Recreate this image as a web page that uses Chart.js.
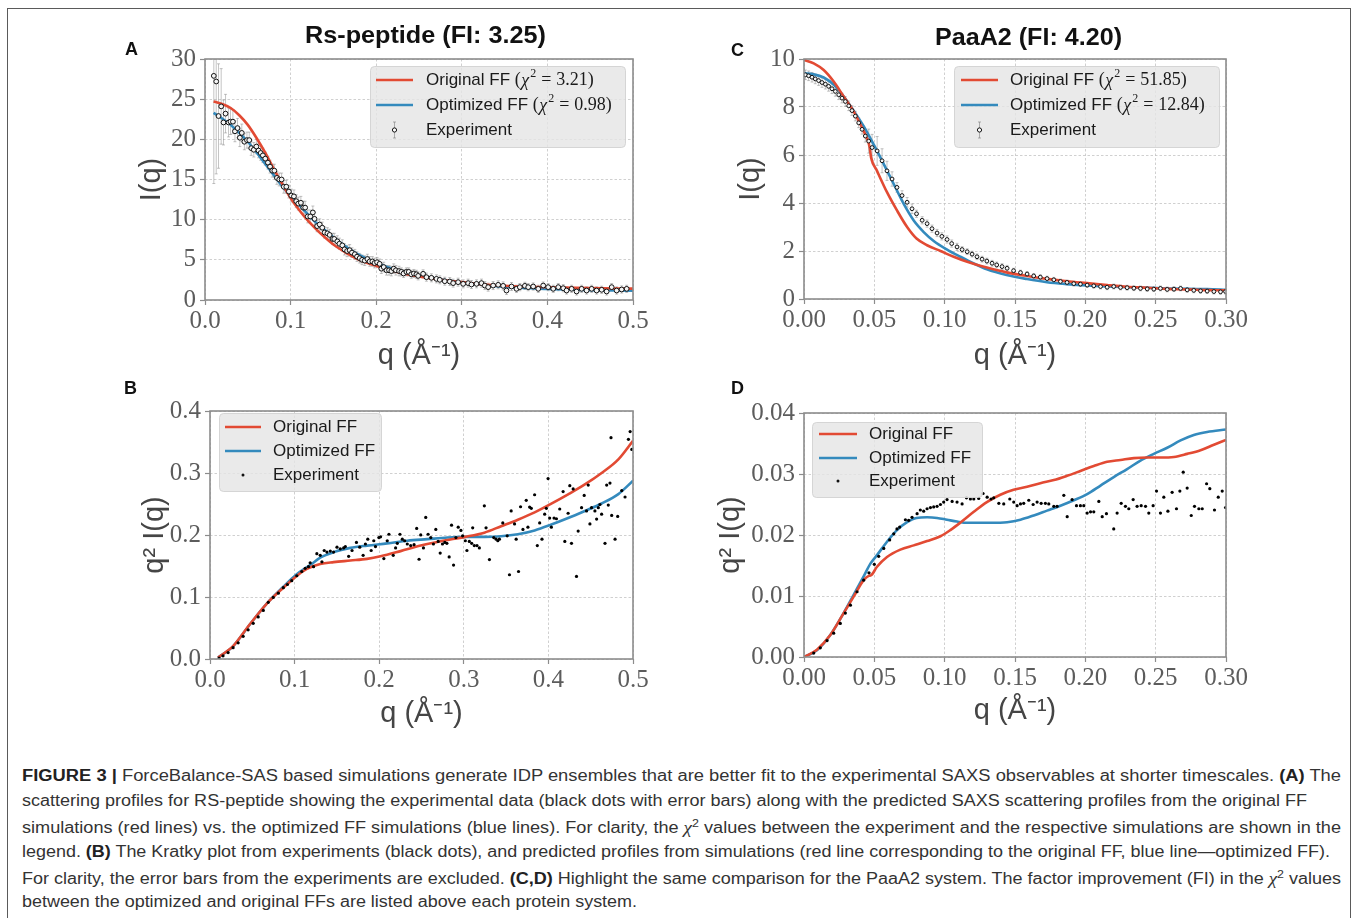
<!DOCTYPE html>
<html><head><meta charset="utf-8">
<script src="https://cdn.jsdelivr.net/npm/chart.js@4.4.1/dist/chart.umd.min.js"></script>
<style>
html,body{margin:0;padding:0;background:#fff;}
body{width:1358px;height:918px;position:relative;overflow:hidden;font-family:"Liberation Sans",Arial,sans-serif;}
#frame{position:absolute;left:7px;top:8px;width:1344px;height:960px;border:1.5px solid #5a5a5a;box-sizing:border-box;}
canvas{position:absolute;}
.fit{position:absolute;white-space:nowrap;transform-origin:0 50%;}
.ttl{font-weight:bold;font-size:24px;color:#111;line-height:30px;}
.lbl{position:absolute;font-weight:bold;font-size:18px;color:#111;line-height:20px;}
.cap{font-size:16px;color:#333;line-height:20px;}
.cap b{color:#222;}
.cap i{font-family:"Liberation Serif",serif;font-size:17px;}
.cap sup{font-size:11px;}
</style></head>
<body>
<div id="frame"></div>
<canvas id="cA"></canvas><canvas id="cB"></canvas><canvas id="cC"></canvas><canvas id="cD"></canvas>
<div class="fit ttl" data-w="241" data-cx="425" data-cy="35">Rs-peptide (FI: 3.25)</div>
<div class="fit ttl" data-w="187" data-cx="1028" data-cy="37">PaaA2 (FI: 4.20)</div>
<div class="lbl" style="left:125px;top:39px">A</div>
<div class="lbl" style="left:124px;top:378px">B</div>
<div class="lbl" style="left:731px;top:40px">C</div>
<div class="lbl" style="left:731px;top:378px">D</div>
<div class="fit cap" data-w="1319" data-x="22" data-cy="776"><b>FIGURE 3 |</b> ForceBalance-SAS based simulations generate IDP ensembles that are better fit to the experimental SAXS observables at shorter timescales. <b>(A)</b> The</div>
<div class="fit cap" data-w="1285" data-x="22" data-cy="801">scattering profiles for RS-peptide showing the experimental data (black dots with error bars) along with the predicted SAXS scattering profiles from the original FF</div>
<div class="fit cap" data-w="1319" data-x="22" data-cy="826">simulations (red lines) vs. the optimized FF simulations (blue lines). For clarity, the <i>χ</i><sup>2</sup> values between the experiment and the respective simulations are shown in the</div>
<div class="fit cap" data-w="1308" data-x="22" data-cy="852">legend. <b>(B)</b> The Kratky plot from experiments (black dots), and predicted profiles from simulations (red line corresponding to the original FF, blue line—optimized FF).</div>
<div class="fit cap" data-w="1319" data-x="22" data-cy="877">For clarity, the error bars from the experiments are excluded. <b>(C,D)</b> Highlight the same comparison for the PaaA2 system. The factor improvement (FI) in the <i>χ</i><sup>2</sup> values</div>
<div class="fit cap" data-w="615" data-x="22" data-cy="902">between the optimized and original FFs are listed above each protein system.</div>
<script>
// ================= DATA =================
// Panel A : I(q) Rs-peptide
const ticksA_x = [0, 0.1, 0.2, 0.3, 0.4, 0.5];
const ticksA_y = [0, 5, 10, 15, 20, 25, 30];
const qA_fit  = [0.01,0.02,0.03,0.04,0.05,0.06,0.07,0.08,0.09,0.10,0.11,0.12,0.13,0.14,0.15,0.16,0.17,0.18,0.19,0.20,0.22,0.24,0.26,0.28,0.30,0.33,0.36,0.40,0.45,0.50];
const A_orig  = [24.7,24.4,23.9,23.0,21.8,20.2,18.4,16.4,14.5,12.7,11.2,9.9,8.8,7.8,6.9,6.2,5.55,5.0,4.6,4.25,3.6,3.1,2.75,2.45,2.22,1.9,1.71,1.59,1.48,1.42];
const A_opt   = [23.3,22.6,21.8,20.8,19.7,18.4,17.0,15.6,14.2,12.9,11.8,10.7,9.6,8.7,7.8,7.0,6.25,5.6,5.1,4.62,3.85,3.3,2.85,2.5,2.2,1.84,1.55,1.38,1.23,1.16];
const qA_exp  = [0.0103,0.0131,0.0158,0.0189,0.0216,0.0240,0.0275,0.0298,0.0326,0.0350,0.0380,0.0407,0.0430,0.0460,0.0490,0.0517,0.0540,0.0570,0.0600,0.0626,0.0650,0.0676,0.0704,0.0735,0.0760,0.0786,0.0810,0.0840,0.0867,0.0895,0.0920,0.0950,0.0980,0.1008,0.1039,0.1066,0.1090,0.1120,0.1148,0.1170,0.1200,0.1230,0.1260,0.1280,0.1310,0.1340,0.1370,0.1398,0.1430,0.1456,0.1490,0.1510,0.1546,0.1570,0.1604,0.1630,0.1660,0.1690,0.1717,0.1750,0.1776,0.1807,0.1835,0.1866,0.1897,0.1924,0.1955,0.1980,0.2010,0.2040,0.2060,0.2088,0.2120,0.2150,0.2177,0.2205,0.2230,0.2267,0.2294,0.2320,0.2353,0.2380,0.2410,0.2440,0.2470,0.2490,0.2548,0.2587,0.2645,0.2704,0.2743,0.2801,0.2860,0.2899,0.2957,0.3016,0.3074,0.3113,0.3172,0.3230,0.3269,0.3308,0.3366,0.3425,0.3483,0.3522,0.3581,0.3639,0.3678,0.3737,0.3776,0.3834,0.3893,0.3951,0.4009,0.4068,0.4127,0.4185,0.4224,0.4283,0.4341,0.4400,0.4458,0.4517,0.4575,0.4634,0.4692,0.4751,0.4809,0.4868,0.4926];
const A_exp   = [27.9,27.2,22.9,24.1,22.1,23.2,22.1,22.2,22.2,21.0,21.4,20.2,20.8,19.7,19.9,19.9,18.9,18.7,19.1,18.6,18.3,18.0,17.6,17.1,16.6,16.1,16.1,15.2,15.0,15.0,14.1,14.1,13.5,13.0,12.9,12.3,12.0,12.1,11.5,11.5,10.4,10.4,10.9,10.1,9.2,9.4,9.0,8.4,8.3,8.1,7.6,7.6,7.3,7.0,6.8,6.3,6.1,6.2,5.9,5.7,5.4,5.2,5.0,4.9,5.1,4.8,4.8,4.6,4.7,4.5,3.9,4.1,3.7,3.7,3.6,3.9,3.7,3.6,3.5,3.3,3.5,3.5,3.2,3.3,3.2,3.0,3.26,2.84,2.76,2.63,2.51,2.34,2.30,2.10,2.22,2.01,2.10,1.93,2.01,2.10,1.80,1.60,1.80,1.89,1.76,1.18,1.68,1.39,1.60,1.76,1.60,1.68,1.39,1.80,1.60,1.39,1.60,1.47,1.18,1.39,1.06,1.39,1.18,1.39,1.18,1.27,1.06,1.60,1.18,1.31,1.39];
const A_err   = [13.4,11.5,6.5,4.7,2.8,2.4,1.8,1.6,1.5,1.3,1.2,1.1,1.1,1.0,1.0,1.0,0.9,0.9,0.9,0.9,0.9,0.9,0.8,0.8,0.8,0.8,0.8,0.8,0.8,0.8,0.8,0.8,0.8,0.8,0.8,0.8,0.8,0.8,0.8,0.8,0.8,0.8,0.8,0.8,0.7,0.7,0.7,0.7,0.7,0.7,0.7,0.7,0.7,0.7,0.7,0.7,0.7,0.7,0.6,0.6,0.6,0.6,0.6,0.6,0.6,0.6,0.6,0.6,0.6,0.6,0.6,0.6,0.6,0.6,0.6,0.6,0.6,0.6,0.5,0.5,0.5,0.5,0.5,0.5,0.5,0.5,0.5,0.5,0.5,0.5,0.5,0.5,0.5,0.5,0.5,0.5,0.5,0.5,0.5,0.5,0.5,0.5,0.5,0.5,0.5,0.5,0.5,0.45,0.45,0.45,0.45,0.45,0.45,0.45,0.45,0.45,0.45,0.45,0.45,0.45,0.45,0.45,0.45,0.45,0.45,0.45,0.45,0.45,0.45,0.45,0.45,0.45,0.45];

// Panel B : Kratky Rs-peptide
const ticksB_x = [0, 0.1, 0.2, 0.3, 0.4, 0.5];
const ticksB_y = [0, 0.1, 0.2, 0.3, 0.4];
const qB_orig = [0.0095,0.0273,0.0471,0.0669,0.0867,0.1018,0.1145,0.1303,0.1461,0.1659,0.1857,0.2016,0.2253,0.2491,0.2728,0.3018,0.3243,0.3441,0.3639,0.3837,0.4035,0.4233,0.4431,0.4629,0.4827,0.5];
const B_orig  = [0.0024,0.0208,0.0560,0.0890,0.1150,0.1332,0.1453,0.1531,0.1562,0.1588,0.1615,0.1656,0.1740,0.1830,0.1900,0.1970,0.2038,0.2142,0.2247,0.2365,0.2505,0.2655,0.2815,0.3000,0.3220,0.3520];
const qB_opt  = [0.0095,0.0273,0.0471,0.0669,0.0867,0.1018,0.1184,0.1303,0.1461,0.1659,0.1857,0.2095,0.2332,0.2570,0.2808,0.3018,0.3243,0.3441,0.3639,0.3837,0.4035,0.4233,0.4431,0.4629,0.4827,0.5];
const B_opt   = [0.0024,0.0205,0.0556,0.0890,0.1165,0.1359,0.1515,0.1635,0.1724,0.1792,0.1829,0.1865,0.1907,0.1933,0.1959,0.1970,0.1970,0.1980,0.2012,0.2074,0.2168,0.2273,0.2388,0.2508,0.2660,0.2874];
const qB_exp  = [0.0107,0.0154,0.0214,0.0273,0.0333,0.0392,0.0451,0.0511,0.0570,0.0630,0.0689,0.0748,0.0808,0.0867,0.0915,0.0966,0.1026,0.1085,0.1125,0.1164,0.1184,0.1224,0.1263,0.1303,0.1323,0.1350,0.1382,0.1422,0.1461,0.1501,0.1540,0.1580,0.1600,0.1639,0.1679,0.1731,0.1770,0.1810,0.1837,0.1865,0.1905,0.1936,0.1956,0.1996,0.2016,0.2055,0.2095,0.2115,0.2166,0.2194,0.2214,0.2245,0.2273,0.2301,0.2332,0.2372,0.2412,0.2443,0.2471,0.2491,0.2523,0.2550,0.2578,0.2610,0.2641,0.2669,0.2697,0.2721,0.2748,0.2776,0.2800,0.2827,0.2855,0.2879,0.2907,0.2934,0.2966,0.2986,0.3018,0.3037,0.3065,0.3093,0.3105,0.3124,0.3156,0.3184,0.3243,0.3263,0.3303,0.3354,0.3382,0.3402,0.3421,0.3461,0.3513,0.3540,0.3560,0.3600,0.3619,0.3647,0.3671,0.3699,0.3738,0.3758,0.3778,0.3798,0.3837,0.3869,0.3897,0.3924,0.3956,0.3976,0.3996,0.4015,0.4035,0.4067,0.4095,0.4134,0.4174,0.4194,0.4233,0.4253,0.4273,0.4293,0.4332,0.4352,0.4392,0.4423,0.4451,0.4471,0.4491,0.4510,0.4550,0.4570,0.4590,0.4609,0.4629,0.4669,0.4689,0.4708,0.4728,0.4748,0.4788,0.4819,0.4867,0.4906,0.4740,0.4946,0.4966,0.4986];
const B_exp   = [0.0016,0.0052,0.0104,0.0183,0.0261,0.0366,0.0470,0.0575,0.0679,0.0784,0.0914,0.0993,0.1061,0.1150,0.1202,0.1264,0.1343,0.1411,0.1463,0.1489,0.1552,0.1489,0.1698,0.1672,0.1568,0.1750,0.1724,0.1740,0.1724,0.1803,0.1777,0.1792,0.1813,0.1656,0.1750,0.1881,0.1803,0.1672,0.1855,0.1933,0.1750,0.1907,0.1813,0.1959,0.1970,0.1620,0.1907,0.2012,0.1672,0.1792,0.1865,0.2012,0.1933,0.1907,0.1855,0.1829,0.1844,0.2106,0.1609,0.2001,0.1792,0.2283,0.2012,0.1959,0.1855,0.2090,0.1897,0.1709,0.1855,0.1881,0.1865,0.1646,0.2158,0.1515,0.1959,0.2127,0.2074,0.1986,0.1907,0.1750,0.1897,0.1865,0.2116,0.1829,0.1829,0.1792,0.2471,0.2116,0.1604,0.1959,0.1933,0.1907,0.1933,0.2195,0.1986,0.1359,0.2388,0.2179,0.1933,0.1411,0.2456,0.2090,0.2560,0.2127,0.2451,0.2430,0.2649,0.1829,0.2195,0.1933,0.2336,0.2430,0.2910,0.2273,0.2127,0.2273,0.2262,0.2419,0.2701,0.1897,0.2351,0.2795,0.1865,0.2743,0.1332,0.2064,0.2440,0.2639,0.2388,0.2806,0.2179,0.2440,0.2388,0.2257,0.2440,0.2492,0.2336,0.1865,0.2806,0.2482,0.2837,0.2315,0.1933,0.2299,0.2717,0.2613,0.3569,0.3543,0.3668,0.3381];

// Panel C : I(q) PaaA2
const ticksC_x = [0, 0.05, 0.10, 0.15, 0.20, 0.25, 0.30];
const ticksC_y = [0, 2, 4, 6, 8, 10];
const qC_orig = [0,0.0069,0.014,0.0211,0.0282,0.0353,0.0413,0.0448,0.0467,0.0477,0.0519,0.059,0.0661,0.0733,0.080,0.0875,0.097,0.1064,0.116,0.130,0.144,0.1586,0.1728,0.187,0.2013,0.2155,0.2297,0.244,0.258,0.2724,0.2866,0.30];
const C_orig  = [9.96,9.82,9.54,9.06,8.44,7.82,7.13,6.69,6.31,5.89,5.34,4.45,3.69,3.00,2.52,2.24,2.00,1.76,1.55,1.31,1.11,0.96,0.84,0.74,0.66,0.58,0.51,0.47,0.42,0.40,0.37,0.36];
const qC_opt  = [0,0.0069,0.014,0.0211,0.0282,0.0353,0.0424,0.0495,0.0567,0.0638,0.0709,0.078,0.0851,0.0922,0.1017,0.1112,0.1207,0.130,0.144,0.1586,0.1728,0.187,0.2013,0.2155,0.2297,0.244,0.258,0.2724,0.2866,0.30];
const C_opt   = [9.40,9.36,9.23,8.93,8.44,7.85,7.20,6.44,5.62,4.79,3.96,3.27,2.79,2.42,2.06,1.76,1.48,1.24,1.00,0.83,0.70,0.62,0.56,0.52,0.49,0.47,0.44,0.42,0.41,0.38];
const qC_exp  = [0.001,0.0033,0.0057,0.008,0.0104,0.0128,0.0152,0.0175,0.0199,0.0223,0.0247,0.027,0.0294,0.0318,0.0341,0.0365,0.0389,0.0413,0.0436,0.046,0.0484,0.052,0.0555,0.059,0.0626,0.0661,0.0697,0.0733,0.0768,0.080,0.084,0.0875,0.091,0.0946,0.098,0.1017,0.105,0.1088,0.1124,0.116,0.1195,0.123,0.1266,0.130,0.1337,0.137,0.1408,0.1444,0.149,0.1539,0.1586,0.1633,0.168,0.1728,0.1776,0.1823,0.187,0.1918,0.1965,0.2013,0.206,0.2108,0.2155,0.2202,0.225,0.2297,0.2345,0.2392,0.244,0.2487,0.2534,0.2582,0.263,0.2677,0.2724,0.2771,0.2819,0.2866,0.2914,0.2961,0.2997];
const C_exp   = [9.34,9.30,9.24,9.17,9.10,9.02,8.95,8.86,8.76,8.65,8.51,8.37,8.23,8.05,7.85,7.62,7.34,7.07,6.79,6.58,6.31,6.17,5.76,5.34,5.00,4.65,4.31,4.03,3.76,3.55,3.28,3.14,2.93,2.75,2.61,2.48,2.31,2.17,2.06,1.97,1.87,1.76,1.66,1.58,1.49,1.42,1.35,1.28,1.18,1.10,1.04,0.96,0.91,0.85,0.80,0.73,0.69,0.64,0.62,0.58,0.55,0.52,0.49,0.52,0.48,0.47,0.45,0.44,0.42,0.41,0.44,0.40,0.41,0.44,0.38,0.36,0.34,0.33,0.31,0.30,0.31];
const C_err   = [0.2,0.2,0.2,0.2,0.2,0.2,0.2,0.2,0.2,0.2,0.2,0.2,0.2,0.2,0.2,0.2,0.2,0.2,0.25,0.5,0.55,0.6,0.5,0.4,0.3,0.2,0.2,0.2,0.2,0.15,0.15,0.15,0.15,0.15,0.15,0.15,0.15,0.15,0.12,0.12,0.12,0.12,0.12,0.12,0.12,0.12,0.12,0.12,0.1,0.1,0.1,0.1,0.1,0.1,0.1,0.1,0.1,0.1,0.1,0.1,0.1,0.1,0.1,0.1,0.1,0.1,0.1,0.1,0.1,0.1,0.1,0.1,0.1,0.1,0.1,0.1,0.1,0.1,0.1,0.1,0.1];

// Panel D : Kratky PaaA2
const ticksD_x = [0, 0.05, 0.10, 0.15, 0.20, 0.25, 0.30];
const ticksD_y = [0, 0.01, 0.02, 0.03, 0.04];
const qD_orig = [0,0.0092,0.0187,0.0282,0.0353,0.0424,0.046,0.0477,0.0519,0.059,0.0685,0.078,0.0875,0.097,0.104,0.111,0.1207,0.130,0.1396,0.149,0.1586,0.168,0.1776,0.187,0.1965,0.206,0.2155,0.225,0.2345,0.244,0.2534,0.263,0.2724,0.2819,0.2914,0.30];
const D_orig  = [0,0.0012,0.0036,0.0072,0.0099,0.0126,0.0133,0.0134,0.0148,0.0164,0.0176,0.0183,0.0190,0.0198,0.0208,0.0220,0.0238,0.0254,0.0266,0.0274,0.0279,0.0285,0.0290,0.0297,0.0305,0.0313,0.0320,0.0323,0.0326,0.0327,0.0327,0.0328,0.0333,0.0339,0.0348,0.0356];
const qD_opt  = [0,0.0092,0.0187,0.0282,0.0353,0.0424,0.0472,0.0519,0.059,0.0661,0.0733,0.080,0.0875,0.0946,0.1017,0.1088,0.116,0.123,0.1325,0.1444,0.1539,0.1633,0.1728,0.1823,0.1918,0.2013,0.2108,0.2202,0.2297,0.2392,0.2487,0.2582,0.2677,0.2771,0.2866,0.30];
const D_opt   = [0,0.0011,0.0036,0.0072,0.0102,0.0132,0.0153,0.0167,0.0189,0.0208,0.0221,0.0228,0.0229,0.0228,0.0225,0.0222,0.0220,0.0220,0.0220,0.0221,0.0225,0.0232,0.0240,0.0248,0.0257,0.0267,0.0281,0.0295,0.0308,0.0322,0.0333,0.0343,0.0355,0.0364,0.0369,0.0373];
const qD_exp  = [0.0069,0.0116,0.0164,0.0211,0.0258,0.0294,0.033,0.0377,0.0424,0.0462,0.0500,0.0531,0.0567,0.0609,0.0638,0.0661,0.0680,0.0721,0.0744,0.0768,0.0804,0.0827,0.0851,0.0875,0.0899,0.0922,0.0946,0.0970,0.0993,0.1017,0.1053,0.1088,0.1124,0.1155,0.1183,0.1207,0.1242,0.1273,0.1302,0.1330,0.1349,0.1385,0.1420,0.1463,0.1491,0.1515,0.1539,0.1562,0.1598,0.1629,0.1657,0.1686,0.1716,0.1740,0.1776,0.1799,0.1847,0.1871,0.1906,0.1937,0.1965,0.1989,0.2013,0.2037,0.2060,0.2096,0.2120,0.2150,0.2202,0.2226,0.2255,0.2285,0.2309,0.2340,0.2368,0.2397,0.2428,0.2451,0.2482,0.2506,0.2534,0.2558,0.2587,0.2617,0.2648,0.2672,0.2696,0.2724,0.2753,0.2776,0.2807,0.2831,0.2862,0.2885,0.2918,0.2945,0.2973,0.2997];
const D_exp   = [0.00065,0.0015,0.0027,0.0039,0.0055,0.0072,0.0085,0.0107,0.0126,0.0138,0.0152,0.0165,0.0178,0.0192,0.0202,0.0210,0.0213,0.0225,0.0224,0.0229,0.0235,0.0241,0.0239,0.0243,0.0245,0.0246,0.0247,0.0250,0.0254,0.0258,0.0255,0.0254,0.0251,0.0261,0.0259,0.0259,0.0260,0.0268,0.0262,0.0259,0.0261,0.0252,0.0251,0.0259,0.0254,0.0248,0.0251,0.0252,0.0257,0.0250,0.0254,0.0252,0.0252,0.0251,0.0247,0.0247,0.0265,0.0230,0.0258,0.0248,0.0248,0.0248,0.0236,0.0238,0.0238,0.0255,0.0230,0.0235,0.0210,0.0236,0.0252,0.0247,0.0243,0.0258,0.0247,0.0248,0.0247,0.0236,0.0248,0.0272,0.0236,0.0262,0.0239,0.0270,0.0243,0.0272,0.0303,0.0277,0.0232,0.0247,0.0243,0.0243,0.0284,0.0276,0.0241,0.0262,0.0272,0.0245];

// Legend texts
const legendNames = ['Original FF', 'Optimized FF', 'Experiment'];
const chiA = ['3.21', '0.98'];
const chiC = ['51.85', '12.84'];

// ================= STYLE / LAYOUT =================
const RED = '#E24A33', BLUE = '#348ABD';
const xy = (xs, ys) => xs.map((x, i) => ({x: x, y: ys[i]}));

function errPlugin(q, v, e) {
  return { id: 'errbars', beforeDatasetsDraw(chart) {
    const ctx = chart.ctx, a = chart.chartArea, xs = chart.scales.x, ys = chart.scales.y;
    ctx.save();
    ctx.beginPath(); ctx.rect(a.left, a.top, a.right - a.left, a.bottom - a.top); ctx.clip();
    ctx.strokeStyle = 'rgba(120,120,120,0.55)'; ctx.lineWidth = 0.8;
    ctx.beginPath();
    q.forEach((qq, i) => {
      const x = xs.getPixelForValue(qq);
      const y1 = ys.getPixelForValue(v[i] - e[i]), y2 = ys.getPixelForValue(v[i] + e[i]);
      ctx.moveTo(x, y1); ctx.lineTo(x, y2);
      ctx.moveTo(x - 1.5, y1); ctx.lineTo(x + 1.5, y1);
      ctx.moveTo(x - 1.5, y2); ctx.lineTo(x + 1.5, y2);
    });
    ctx.stroke(); ctx.restore();
  }};
}
const framePlugin = { id: 'frame', afterDatasetsDraw(chart) {
  const ctx = chart.ctx, a = chart.chartArea;
  ctx.save(); ctx.strokeStyle = '#8c8c8c'; ctx.lineWidth = 1.6;
  ctx.strokeRect(a.left, a.top, a.right - a.left, a.bottom - a.top); ctx.restore();
}};
function legendPlugin(spec, geo) {
  return { id: 'boxlegend', afterDraw(chart) {
    const ctx = chart.ctx, ox = geo.left, oy = geo.top, b = spec.box;
    ctx.save();
    ctx.fillStyle = 'rgba(229,229,229,0.82)'; ctx.strokeStyle = 'rgba(210,210,210,0.9)'; ctx.lineWidth = 1;
    ctx.beginPath(); ctx.roundRect(b[0] - ox + 0.5, b[1] - oy + 0.5, b[2], b[3], 4); ctx.fill(); ctx.stroke();
    spec.rows.forEach(r => {
      const y = r.y - oy;
      if (r.kind === 'line') {
        ctx.strokeStyle = r.color; ctx.lineWidth = 2.6; ctx.beginPath();
        ctx.moveTo(spec.x1 - ox, y); ctx.lineTo(spec.x2 - ox, y); ctx.stroke();
      } else {
        const mx = (spec.x1 + spec.x2) / 2 - ox;
        if (r.kind === 'errpt') {
          ctx.strokeStyle = 'rgba(120,120,120,0.7)'; ctx.lineWidth = 0.8; ctx.beginPath();
          ctx.moveTo(mx, y - 8); ctx.lineTo(mx, y + 8);
          ctx.moveTo(mx - 1.5, y - 8); ctx.lineTo(mx + 1.5, y - 8);
          ctx.moveTo(mx - 1.5, y + 8); ctx.lineTo(mx + 1.5, y + 8); ctx.stroke();
          ctx.fillStyle = '#fff'; ctx.strokeStyle = '#111'; ctx.lineWidth = 1;
          ctx.beginPath(); ctx.arc(mx, y, 2.1, 0, Math.PI * 2); ctx.fill(); ctx.stroke();
        } else {
          ctx.fillStyle = '#111'; ctx.beginPath(); ctx.arc(mx, y, 1.5, 0, Math.PI * 2); ctx.fill();
        }
      }
      ctx.fillStyle = '#1a1a1a'; ctx.textBaseline = 'middle'; ctx.textAlign = 'left';
      ctx.font = '17px "Liberation Sans", sans-serif';
      let x = spec.tx - ox;
      ctx.fillText(r.text, x, y);
      if (r.chi) {
        x += ctx.measureText(r.text + ' ').width;
        ctx.font = '18px "Liberation Serif", serif';
        ctx.fillText('(', x, y); x += ctx.measureText('(').width + 0.5;
        ctx.font = 'italic 18px "Liberation Serif", serif';
        ctx.fillText('χ', x, y + 1); x += ctx.measureText('χ').width + 1;
        ctx.font = '12px "Liberation Serif", serif';
        ctx.fillText('2', x, y - 6); x += ctx.measureText('2').width + 5;
        ctx.font = '18px "Liberation Serif", serif';
        ctx.fillText('=', x, y); x += ctx.measureText('=').width + 5;
        ctx.fillText(r.chi + ')', x, y);
      }
    });
    ctx.restore();
  }};
}

function panel(id, geo, xr, yr, xticks, yticks, xdec, ydec, yTitle, datasets, extraPlugins) {
  const cv = document.getElementById(id);
  cv.width = geo.w; cv.height = geo.h;
  cv.style.left = geo.left + 'px'; cv.style.top = geo.top + 'px';
  const yW = geo.pl - geo.left, xH = geo.top + geo.h - geo.pb;
  const TF = 29, LH = TF * 1.2;
  const gridOpts = { color: '#c4c4c4', lineWidth: 0.8, tickLength: 5, tickColor: '#8c8c8c', tickWidth: 1.2 };
  const tickFont = { family: '"Liberation Serif", serif', size: 25 };
  return new Chart(cv, {
    type: 'scatter',
    data: { datasets: datasets },
    options: {
      responsive: false, animation: false, devicePixelRatio: 1,
      layout: { autoPadding: false, padding: { left: 0, top: geo.pt - geo.top, right: geo.left + geo.w - geo.pr, bottom: 0 } },
      plugins: { legend: { display: false }, tooltip: { enabled: false } },
      scales: {
        x: {
          type: 'linear', min: xr[0], max: xr[1],
          afterBuildTicks: s => { s.ticks = xticks.map(v => ({ value: v })); },
          afterFit: s => { s.height = xH; },
          ticks: { callback: v => Number(v).toFixed(xdec), font: tickFont, color: '#5c5c5c', padding: 1, maxRotation: 0, autoSkip: false },
          grid: gridOpts, border: { display: false, dash: [2.5, 2] },
          title: { display: true, text: 'q (Å⁻¹)', font: { family: '"Liberation Sans", sans-serif', size: TF }, color: '#454545',
                   padding: { top: 0, bottom: geo.top + geo.h - LH / 2 - geo.xTitleY } }
        },
        y: {
          type: 'linear', min: yr[0], max: yr[1],
          afterBuildTicks: s => { s.ticks = yticks.map(v => ({ value: v })); },
          afterFit: s => { s.width = yW; },
          ticks: { callback: v => Number(v).toFixed(ydec), font: tickFont, color: '#5c5c5c', padding: 4 },
          grid: gridOpts, border: { display: false, dash: [2.5, 2] },
          title: { display: true, text: yTitle, font: { family: '"Liberation Sans", sans-serif', size: TF }, color: '#454545',
                   padding: { top: geo.yTitleX - geo.left - LH / 2, bottom: 0 } }
        }
      }
    },
    plugins: [framePlugin].concat(extraPlugins)
  });
}

const lineDS = (q, v, c) => ({ data: xy(q, v), showLine: true, borderColor: c, backgroundColor: c, borderWidth: 2.6, pointRadius: 0, cubicInterpolationMode: 'monotone', fill: false, order: 2 });
const openDS = (q, v, r) => ({ data: xy(q, v), showLine: false, pointRadius: r, pointBackgroundColor: '#f4f4f4', pointBorderColor: '#111', pointBorderWidth: 1, order: 0 });
const dotDS = (q, v) => ({ data: xy(q, v), showLine: false, pointRadius: 1.6, pointBackgroundColor: '#000', pointBorderWidth: 0, order: 0 });

const geoA = { left: 100, top: 40, w: 580, h: 345, pl: 205, pt: 57, pr: 633, pb: 300, yTitleX: 152, xTitleY: 356 };
const geoB = { left: 100, top: 392, w: 580, h: 345, pl: 210, pt: 404, pr: 633, pb: 659, yTitleX: 155, xTitleY: 714 };
const geoC = { left: 690, top: 40, w: 590, h: 345, pl: 804, pt: 57, pr: 1226, pb: 299, yTitleX: 751, xTitleY: 356 };
const geoD = { left: 690, top: 392, w: 590, h: 345, pl: 804, pt: 413, pr: 1226, pb: 657, yTitleX: 731, xTitleY: 711 };

const legA = { box: [370, 66, 255, 81], x1: 376, x2: 413, tx: 426, rows: [
  { kind: 'line', color: RED, y: 80, text: legendNames[0], chi: chiA[0] },
  { kind: 'line', color: BLUE, y: 105, text: legendNames[1], chi: chiA[1] },
  { kind: 'errpt', y: 130, text: legendNames[2] }] };
const legC = { box: [954, 66, 265, 81], x1: 961, x2: 998, tx: 1010, rows: [
  { kind: 'line', color: RED, y: 80, text: legendNames[0], chi: chiC[0] },
  { kind: 'line', color: BLUE, y: 105, text: legendNames[1], chi: chiC[1] },
  { kind: 'errpt', y: 130, text: legendNames[2] }] };
const legB = { box: [219, 413, 162, 78], x1: 225, x2: 261, tx: 273, rows: [
  { kind: 'line', color: RED, y: 427, text: legendNames[0] },
  { kind: 'line', color: BLUE, y: 451, text: legendNames[1] },
  { kind: 'dot', y: 475, text: legendNames[2] }] };
const legD = { box: [812, 422, 170, 75], x1: 819, x2: 857, tx: 869, rows: [
  { kind: 'line', color: RED, y: 434, text: legendNames[0] },
  { kind: 'line', color: BLUE, y: 458, text: legendNames[1] },
  { kind: 'dot', y: 481, text: legendNames[2] }] };

function fitTexts() {
  document.querySelectorAll('.fit').forEach(el => {
    const r = el.getBoundingClientRect();
    const target = +el.dataset.w;
    const k = target / r.width;
    const x = el.dataset.cx !== undefined ? (+el.dataset.cx - target / 2) : +el.dataset.x;
    el.style.left = x + 'px';
    el.style.top = (+el.dataset.cy - r.height / 2) + 'px';
    el.style.transform = 'scaleX(' + k + ')';
  });
}

function build() {
  fitTexts();
  panel('cA', geoA, [0, 0.5], [0, 30], ticksA_x, ticksA_y, 1, 0, 'I(q)',
    [lineDS(qA_fit, A_orig, RED), lineDS(qA_fit, A_opt, BLUE), openDS(qA_exp, A_exp, 2.4)],
    [errPlugin(qA_exp, A_exp, A_err), legendPlugin(legA, geoA)]);
  panel('cB', geoB, [0, 0.5], [0, 0.4], ticksB_x, ticksB_y, 1, 1, 'q² I(q)',
    [lineDS(qB_orig, B_orig, RED), lineDS(qB_opt, B_opt, BLUE), dotDS(qB_exp, B_exp)],
    [legendPlugin(legB, geoB)]);
  panel('cC', geoC, [0, 0.3], [0, 10], ticksC_x, ticksC_y, 2, 0, 'I(q)',
    [lineDS(qC_orig, C_orig, RED), lineDS(qC_opt, C_opt, BLUE), openDS(qC_exp, C_exp, 1.9)],
    [errPlugin(qC_exp, C_exp, C_err), legendPlugin(legC, geoC)]);
  panel('cD', geoD, [0, 0.3], [0, 0.04], ticksD_x, ticksD_y, 2, 2, 'q² I(q)',
    [lineDS(qD_orig, D_orig, RED), lineDS(qD_opt, D_opt, BLUE), dotDS(qD_exp, D_exp)],
    [legendPlugin(legD, geoD)]);
}
if (document.fonts && document.fonts.ready) document.fonts.ready.then(build); else build();
</script>
</body></html>
